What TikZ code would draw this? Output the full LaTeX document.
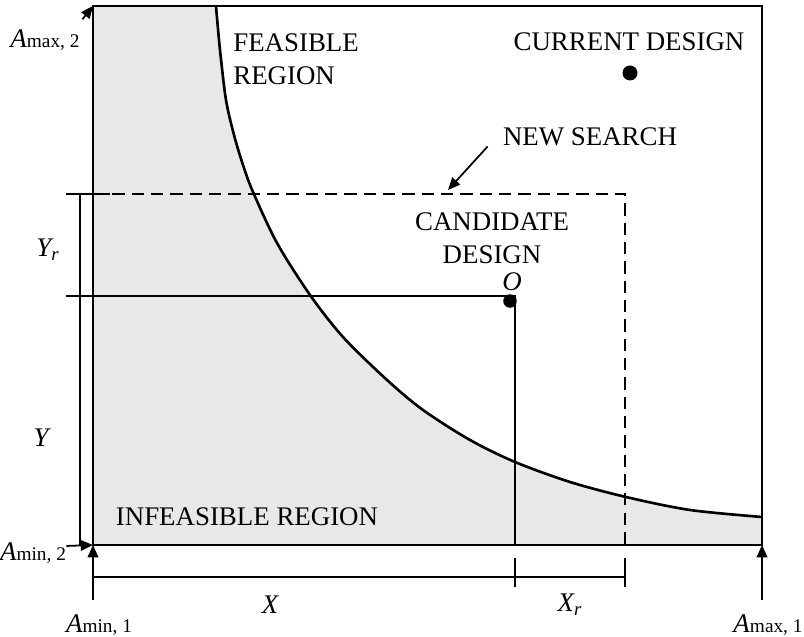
\documentclass[tikz,border=0pt]{standalone}
\usepackage{fontspec}
\setmainfont{Liberation Serif}
\usetikzlibrary{positioning,arrows.meta}

\newcommand{\lblfont}{\fontsize{15.3}{18}\selectfont}
\newcommand{\bndlabel}[2]{\textit{#1}{\fontsize{11}{13}\selectfont #2}}
\newcommand{\boundary}{plot[smooth] coordinates {(4.32,12.62) (4.40,11.74) (4.52,10.74)
  (4.68,10.04) (4.86,9.44) (5.06,8.90) (5.54,7.88) (6.20,6.84) (6.86,6.00) (7.74,5.14)
  (8.46,4.54) (9.40,3.94) (10.30,3.50) (11.40,3.10) (12.52,2.80) (13.80,2.54) (15.24,2.40)}}

\begin{document}
\begin{tikzpicture}[
  >={Triangle[length=7pt,width=6pt]},
  lbl/.style={font=\lblfont, align=center, inner sep=0pt},
  dot/.style={circle, fill, inner sep=0pt, minimum size=0.27cm},
  dim/.style={line width=1pt}
]
  \useasboundingbox (0,0) rectangle (16.08,12.74);

  % Corners of the design space
  \coordinate (ll) at (1.86,1.84);
  \coordinate (lr) at (15.24,1.84);
  \coordinate (ul) at (1.86,12.62);
  \coordinate (ur) at (15.24,12.62);

  % Infeasible region and its boundary
  \fill[black!9] \boundary -- (lr) -- (ll) -- (ul) -- cycle;
  \draw[line width=1.5pt] \boundary;
  \draw[line width=1.2pt] (ll) rectangle (ur);

  % New search window
  \coordinate (stop) at (12.5,8.86);
  \draw[line width=1pt, dash pattern=on 7pt off 4pt] (ul |- stop) -- (stop) -- (stop |- ll);

  % Candidate design
  \coordinate (corner) at (10.3,6.82);
  \coordinate (ytick) at (1.32,6.82);
  \draw[dim] (ytick) -- (corner) -- (corner |- ll);
  \node[dot, anchor=north east] (cand) at (corner) {};
  \node[lbl, font=\lblfont\itshape] (o) at (10.24,7.1) {O};
  \node[lbl] (candtxt) at (9.84,7.98) {CANDIDATE\\[1pt]DESIGN};

  % Current design
  \node[dot, minimum size=0.3cm] (cur) at (12.6,11.28) {};
  \node[lbl] (curtxt) at (12.58,11.9) {CURRENT DESIGN};

  % Region labels
  \node[lbl, align=left, anchor=west] (feas) at (4.66,11.56) {FEASIBLE\\[1pt]REGION};
  \node[lbl] (infeas) at (4.94,2.4) {INFEASIBLE REGION};
  \node[lbl] (newtxt) at (11.8,10.0) {NEW SEARCH};
  \coordinate (nstip) at (8.96,8.94);
  \draw[->, line width=1pt] ([xshift=-0.3cm]newtxt.south west) -- (nstip);

  % Vertical dimensions
  \coordinate (ytop) at (1.6,8.86);
  \draw[dim] (ytop) -- (ytop |- ll);
  \draw[dim] (1.32,8.86) -- (2.2,8.86);
  \node[lbl, font=\lblfont\itshape] (yr) at (0.96,7.74) {Y\textsubscript{r}};
  \node[lbl, font=\lblfont\itshape] (y) at (0.82,3.98) {Y};

  % Horizontal dimensions
  \coordinate (xend) at (12.5,1.2);
  \draw[dim] (ll |- xend) -- (xend);
  \draw[dim] (10.3,1.0) -- (10.3,1.58);
  \draw[dim] (12.5,1.0) -- (12.5,1.58);
  \node[lbl, font=\lblfont\itshape] (x) at (5.4,0.64) {X};
  \node[lbl, font=\lblfont\itshape] (xr) at (11.4,0.64) {X\textsubscript{r}};

  % Bounds of the design variables
  \node[lbl] (amax2) at (0.9,11.94) {\bndlabel{A}{max, 2}};
  \draw[->, line width=1pt] ([shift={(0.05,0.2)}]amax2.north east) -- (ul);
  \node[lbl] (amin2) at (0.66,1.68) {\bndlabel{A}{min, 2}};
  \draw[->, line width=1pt] ([yshift=4pt]amin2.east) -- (ll);
  \node[lbl] (amin1) at (1.98,0.24) {\bndlabel{A}{min, 1}};
  \coordinate (a1) at (1.86,0.74);
  \draw[->, line width=1pt] (a1) -- (ll);
  \node[lbl] (amax1) at (15.36,0.24) {\bndlabel{A}{max, 1}};
  \coordinate (a2) at (15.24,0.74);
  \draw[->, line width=1pt] (a2) -- (lr);
\end{tikzpicture}
\end{document}
